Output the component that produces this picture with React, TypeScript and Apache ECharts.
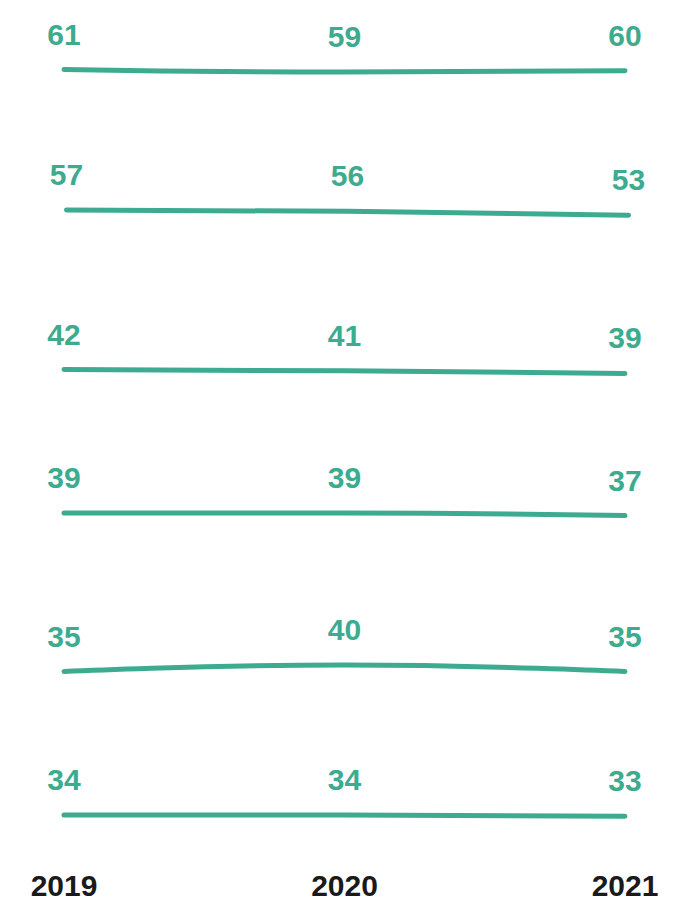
import React, { useEffect, useRef } from "react";
import * as echarts from "echarts";

const years = ["2019", "2020", "2021"];
const row1 = [61, 59, 60];
const row2 = [57, 56, 53];
const row3 = [42, 41, 39];
const row4 = [39, 39, 37];
const row5 = [35, 40, 35];
const row6 = [34, 34, 33];

const rows = [row1, row2, row3, row4, row5, row6];
const GREEN = "#3dab8f";
const FONT = "'Liberation Sans', Arial, sans-serif";

// layout of each small multiple (position only)
const gridTops = [18.8, 154.1, 294.1, 433.7, 587, 729.2];
const gridLefts = [64, 66.5, 64, 64, 64, 64];
const gridRights = [54, 50.5, 54, 54, 54, 54];
const GRID_H = 130;

export default function App() {
  const ref = useRef<HTMLDivElement>(null);
  useEffect(() => {
    if (!ref.current) return;
    const chart = echarts.init(ref.current, null, { renderer: "svg" });
    const grids = rows.map((_, i) => ({
      top: gridTops[i],
      left: gridLefts[i],
      right: gridRights[i],
      height: GRID_H,
      containLabel: false,
    }));
    const xAxes = rows.map((_, i) => ({
      type: "category",
      gridIndex: i,
      data: years,
      boundaryGap: false,
      axisLine: { show: false },
      axisTick: { show: false },
      splitLine: { show: false },
      axisLabel: {
        show: i === rows.length - 1,
        margin: 11,
        color: "#1a1a1a",
        fontSize: 30,
        fontWeight: "bold",
        fontFamily: FONT,
      },
    }));
    const yAxes = rows.map((_, i) => ({
      type: "value",
      gridIndex: i,
      min: 0,
      max: 100,
      show: false,
    }));
    const series = rows.map((vals, i) => ({
      type: "line",
      xAxisIndex: i,
      yAxisIndex: i,
      data: vals,
      smooth: true,
      symbol: "circle",
      symbolSize: 1,
      itemStyle: { color: GREEN },
      lineStyle: { color: GREEN, width: 5, cap: "round" },
      label: {
        show: true,
        position: "top",
        distance: 20,
        color: GREEN,
        fontSize: 30,
        fontWeight: "bold",
        fontFamily: FONT,
      },
    }));
    chart.setOption({
      animation: false,
      backgroundColor: "#ffffff",
      grid: grids,
      xAxis: xAxes,
      yAxis: yAxes,
      series,
    });
    return () => chart.dispose();
  }, []);
  return (
    <div
      ref={ref}
      style={{ position: "fixed", left: 0, top: 0, width: 679, height: 908 }}
    />
  );
}
